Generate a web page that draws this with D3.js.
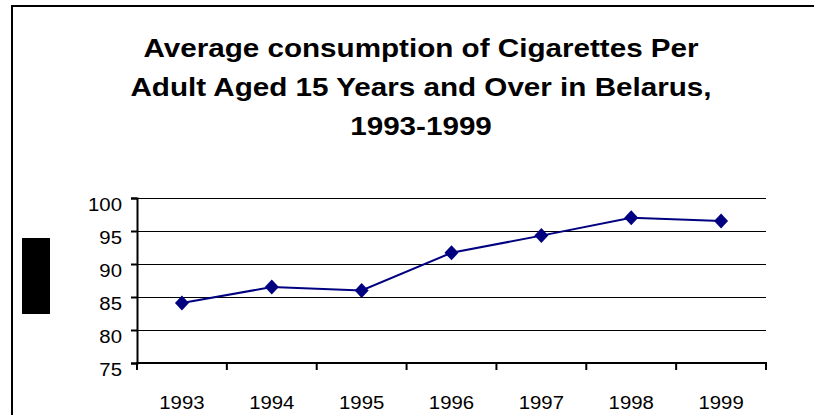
<!DOCTYPE html>
<html>
<head>
<meta charset="utf-8">
<script src="https://cdn.jsdelivr.net/npm/d3@7"></script>
<style>
  body { margin: 0; background: #fff; }
  svg { display: block; font-family: Arial, "Liberation Sans", sans-serif; }
</style>
</head>
<body>
<svg id="chart" width="814" height="415"></svg>
<script>
const years = ["1993", "1994", "1995", "1996", "1997", "1998", "1999"];
const consumption = [84.1, 86.5, 86.0, 91.7, 94.3, 97.0, 96.5];
const yTicks = [75, 80, 85, 90, 95, 100];
const titleLines = [
	"Average consumption of Cigarettes Per",
	"Adult Aged 15 Years and Over in Belarus,",
	"1993-1999"
];

const svg = d3.select("#chart");
const plot = { left: 137, right: 766, top: 198, bottom: 363 };
const stretch = 1.1; // the original text is a bit wider than Arial

// frame round the chart (top and left only, like the original)
svg.append("path")
	.attr("d", "M12,415 V6 H814")
	.attr("fill", "none")
	.attr("stroke", "#000")
	.attr("stroke-width", 2);

// title
svg.append("g")
	.selectAll("text")
	.data(titleLines)
	.enter()
	.append("text")
	.attr("transform", (d, i) => `translate(421,${57 + i * 39}) scale(1.14,1)`)
	.attr("text-anchor", "middle")
	.style("font-size", "26px")
	.style("font-weight", "bold")
	.text((d) => d);

// black block on the left (legend remains)
svg.append("rect")
	.attr("x", 22).attr("y", 238)
	.attr("width", 28).attr("height", 76)
	.attr("fill", "#000");

var xScale = d3.scaleBand().domain(years).range([plot.left, plot.right]);
var yScale = d3.scaleLinear().domain([75, 100]).range([plot.bottom, plot.top]);
const crisp = (v) => Math.round(v) + 0.5;

// gridlines
svg.append("g")
	.selectAll("line")
	.data(yTicks.filter((d) => d > 75))
	.enter()
	.append("line")
	.attr("x1", plot.left).attr("x2", plot.right)
	.attr("y1", (d) => crisp(yScale(d))).attr("y2", (d) => crisp(yScale(d)))
	.attr("stroke", "#000")
	.attr("stroke-width", 1)
	.attr("shape-rendering", "crispEdges");

// y axis
const yAxis = svg.append("g")
	.attr("transform", `translate(${plot.left},0)`)
	.call(d3.axisLeft(yScale).tickValues(yTicks).tickSize(6).tickPadding(0).tickFormat(""));
yAxis.select(".domain").attr("stroke-width", 2);
yAxis.selectAll(".tick line").attr("stroke-width", 2);
yAxis.selectAll(".tick")
	.append("text")
	.attr("transform", `translate(-15,12) scale(${stretch},1)`)
	.attr("text-anchor", "end")
	.attr("fill", "#000")
	.style("font-size", "18.5px")
	.text((d) => d);

// x axis, ticks on category boundaries
const bounds = years.map((d) => xScale(d)).concat([plot.right]);
const xAxisG = svg.append("g");
xAxisG.append("line")
	.attr("x1", plot.left - 1).attr("x2", plot.right + 1)
	.attr("y1", plot.bottom).attr("y2", plot.bottom)
	.attr("stroke", "#000").attr("stroke-width", 2);
xAxisG.selectAll(".xtick")
	.data(bounds)
	.enter()
	.append("line")
	.attr("x1", (d) => d).attr("x2", (d) => d)
	.attr("y1", plot.bottom).attr("y2", plot.bottom + 7)
	.attr("stroke", "#000").attr("stroke-width", 2);
xAxisG.selectAll(".xlabel")
	.data(years)
	.enter()
	.append("text")
	.attr("transform", (d) => `translate(${xScale(d) + xScale.bandwidth() / 2},409) scale(${stretch},1)`)
	.attr("text-anchor", "middle")
	.style("font-size", "18.5px")
	.text((d) => d);

// the line
const cx = (d, i) => xScale(years[i]) + xScale.bandwidth() / 2;
svg.append("path")
	.datum(consumption)
	.attr("fill", "none")
	.attr("stroke", "#000080")
	.attr("stroke-width", 2)
	.attr("d", d3.line().x(cx).y((d) => yScale(d)));

// diamond markers
svg.append("g")
	.selectAll("path")
	.data(consumption)
	.enter()
	.append("path")
	.attr("transform", (d, i) => `translate(${cx(d, i)},${yScale(d)})`)
	.attr("d", "M0,-7.5 L7,0 L0,7.5 L-7,0 Z")
	.attr("fill", "#000080");
</script>
</body>
</html>
